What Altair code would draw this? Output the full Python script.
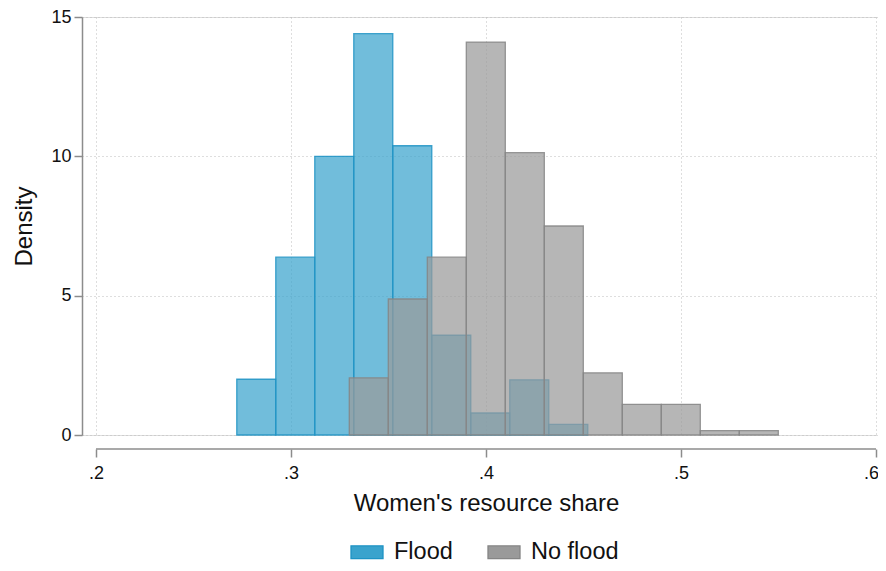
import altair as alt
import pandas as pd

# ---- data ----
groups = ["Flood", "No flood"]
bin_width = 0.02

flood_left = [0.2722, 0.2922, 0.3122, 0.3322, 0.3522, 0.3722, 0.3922, 0.4122, 0.4322]
flood_density = [2.0, 6.38, 10.0, 14.4, 10.38, 3.58, 0.79, 1.98, 0.38]

noflood_left = [0.3299, 0.3499, 0.3699, 0.3899, 0.4099, 0.4299, 0.4499, 0.4699, 0.4899, 0.5099, 0.5299]
noflood_density = [2.05, 4.88, 6.38, 14.1, 10.13, 7.5, 2.23, 1.1, 1.1, 0.16, 0.16]

x_ticks = [0.2, 0.3, 0.4, 0.5, 0.6]
y_ticks = [0, 5, 10, 15]

fill_colors = ["#3aa3cd", "#9a9a9a"]
stroke_colors = ["#1e93c4", "#858585"]

rows = []
for l, d in zip(flood_left, flood_density):
    rows.append({"group": "Flood", "x": l, "x2": l + bin_width, "density": d})
for l, d in zip(noflood_left, noflood_density):
    rows.append({"group": "No flood", "x": l, "x2": l + bin_width, "density": d})
df = pd.DataFrame(rows)

axis_line = pd.DataFrame({"a": [x_ticks[0]], "b": [x_ticks[-1]]})

FONT = "Liberation Sans"
W, H = 796, 418

xscale = alt.Scale(domain=[0.19282, 0.60103], nice=False, zero=False)
yscale = alt.Scale(domain=[0, 15], nice=False)

legend_kw = dict(title=None, orient="none", direction="horizontal",
                 legendX=268, legendY=518,
                 symbolType="M-1,-0.4H1V0.4H-1Z", symbolSize=1024,
                 symbolStrokeWidth=1.3, labelFontSize=23.5,
                 labelOffset=10, columnPadding=32)

bars = alt.Chart(df).mark_bar(
    fillOpacity=0.72, strokeOpacity=0.85, strokeWidth=1.3
).encode(
    x=alt.X("x:Q", scale=xscale,
            axis=alt.Axis(values=x_ticks, title="Women's resource share",
                          labelExpr="substring(format(datum.value, '.1f'), 1)",
                          labelOffset={"condition": {"test": "datum.value > 0.55", "value": -5},
                                       "value": 0},
                          offset=14, domain=False, tickSize=8, tickColor="#8c8c8c",
                          tickWidth=1.5, labelPadding=7, labelFontSize=18,
                          titleFontSize=24, titlePadding=9, titleX=404,
                          grid=True, gridDash=[1, 3], gridColor="#bdbdbd")),
    x2="x2:Q",
    y=alt.Y("density:Q", scale=yscale,
            axis=alt.Axis(values=y_ticks, title="Density", tickSize=8,
                          tickColor="#8c8c8c", tickWidth=1.5, domainColor="#8c8c8c",
                          domainWidth=1.5, labelPadding=3, labelFontSize=18,
                          titleFontSize=24, titlePadding=14,
                          grid=True, gridDash=[1, 3], gridColor="#bdbdbd")),
    y2=alt.datum(0),
    fill=alt.Fill("group:N", scale=alt.Scale(domain=groups, range=fill_colors),
                  legend=alt.Legend(**legend_kw)),
    stroke=alt.Stroke("group:N", scale=alt.Scale(domain=groups, range=stroke_colors),
                      legend=alt.Legend(**legend_kw)),
    order=alt.Order("group:N", sort="ascending"),
)

xline = alt.Chart(axis_line).mark_rule(color="#8c8c8c", strokeWidth=1.5).encode(
    x=alt.X("a:Q", scale=xscale), x2="b:Q", y=alt.value(H + 14)
)

chart = alt.layer(bars, xline).properties(
    width=W, height=H,
    autosize=alt.AutoSizeParams(type="none"),
    padding={"left": 74, "top": 9, "right": 0, "bottom": 128},
    background="white",
).configure_view(stroke=None).configure(
    font=FONT
).configure_axis(
    labelColor="#111", titleColor="#111", titleFontWeight="normal"
).configure_legend(labelColor="#111")

chart.save("out.html", embed_options={"renderer": "svg", "actions": False})
